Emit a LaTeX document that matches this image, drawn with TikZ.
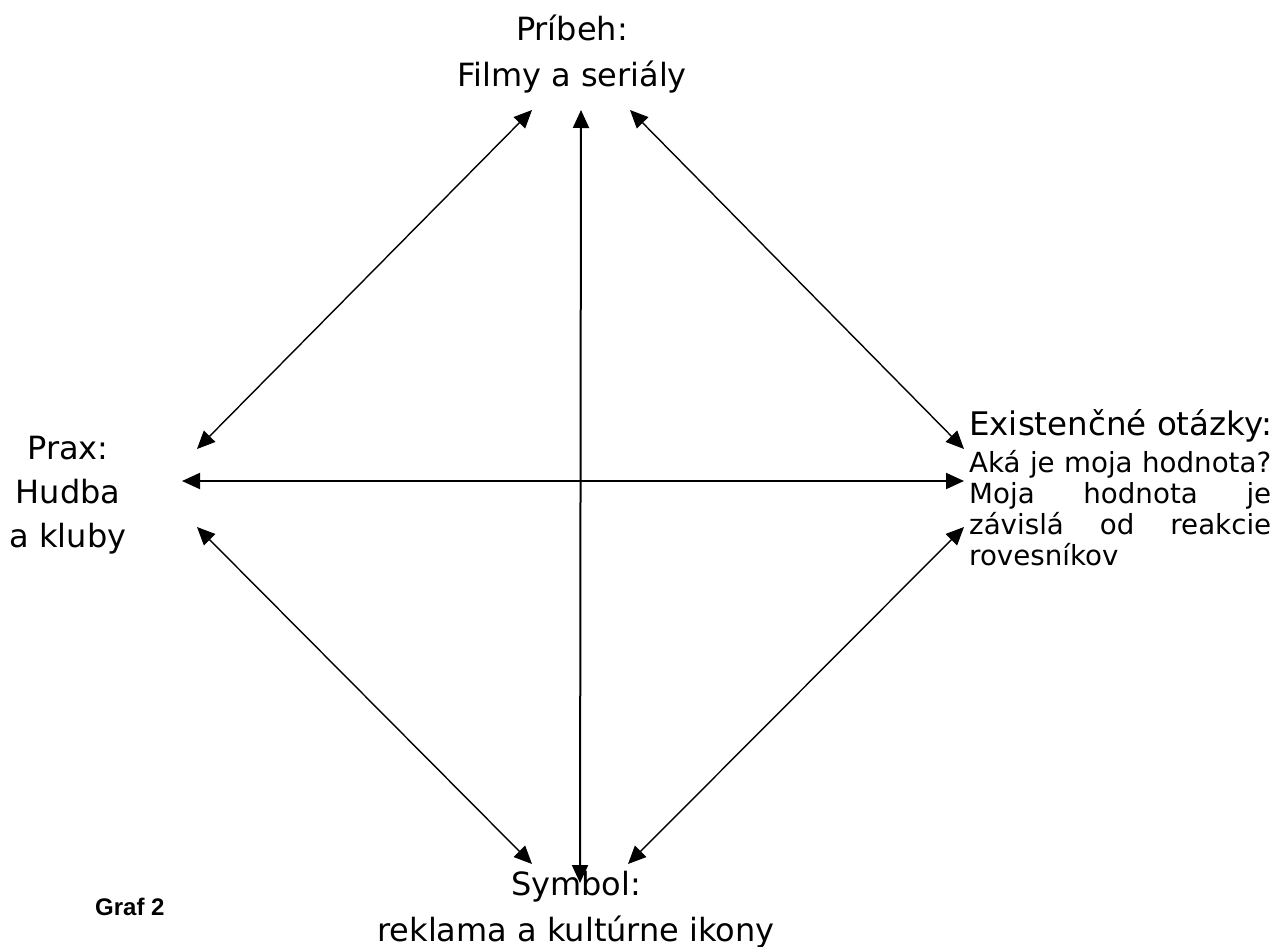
\documentclass[tikz,border=0pt]{standalone}
\usepackage{fontspec}
\setmainfont{DejaVu Sans}
\newfontfamily\arialbold{Liberation Sans}[BoldFont={* Bold}]
\usetikzlibrary{arrows.meta}
\tikzset{
  lbl/.style={align=center, inner sep=0pt, font=\fontsize{32}{46}\selectfont},
  link/.style={line width=1.4pt, {Triangle[length=18pt,width=16pt]}-{Triangle[length=18pt,width=16pt]}},
  axis/.style={line width=2pt, {Triangle[length=18pt,width=16pt]}-{Triangle[length=18pt,width=16pt]}},
}
\begin{document}
\begin{tikzpicture}[x=1pt,y=-1pt]
\useasboundingbox (0,0) rectangle (1287,947);
% labels
\node[lbl, anchor=base] (top1) at (572,41) {Príbeh:};
\node[lbl, anchor=base] (top) at (572,87) {Filmy a seriály};
\node[lbl, anchor=base] (left1) at (68,459) {Prax:};
\node[lbl, anchor=base] (left2) at (68,503) {Hudba};
\node[lbl, anchor=base] (left) at (68,547) {a kluby};
\node[lbl, anchor=base] (bot) at (576,895) {Symbol:};
\node[lbl, anchor=base] (bot2) at (576,941) {reklama a kultúrne ikony};
\node[inner sep=0pt, anchor=base west, font=\fontsize{32.5}{36}\selectfont] (right) at (969,435) {Existenčné otázky:};
\node[inner sep=0pt, anchor=north west, text width=302pt, align=justify,
      font=\fontsize{27.7}{31}\selectfont] (rtext) at (969,450)
  {\hyphenpenalty=10000 \exhyphenpenalty=10000 \hbadness=10000
   Aká je moja hodnota?\linebreak
   Moja hodnota je\linebreak
   závislá od reakcie\linebreak
   rovesníkov\par};
\node[inner sep=0pt, anchor=base west, font=\arialbold\bfseries\fontsize{24}{28}\selectfont] (graf) at (95,915) {Graf 2};
% arrow end points
\coordinate (tL) at (532,110);
\coordinate (tC) at (581,110);
\coordinate (tR) at (630,110);
\coordinate (lT) at (197,449);
\coordinate (lC) at (182,481);
\coordinate (lB) at (197,527);
\coordinate (rT) at (964,449);
\coordinate (rC) at (964,481);
\coordinate (rB) at (964,527);
\coordinate (bL) at (532,864);
\coordinate (bC) at (580,883);
\coordinate (bR) at (628,864);
% connectors
\draw[link] (lT) -- (tL);
\draw[link] (tR) -- (rT);
\draw[link] (lB) -- (bL);
\draw[link] (rB) -- (bR);
\draw[axis] (lC) -- (rC);
\draw[axis] (tC) -- (bC);
\end{tikzpicture}
\end{document}
